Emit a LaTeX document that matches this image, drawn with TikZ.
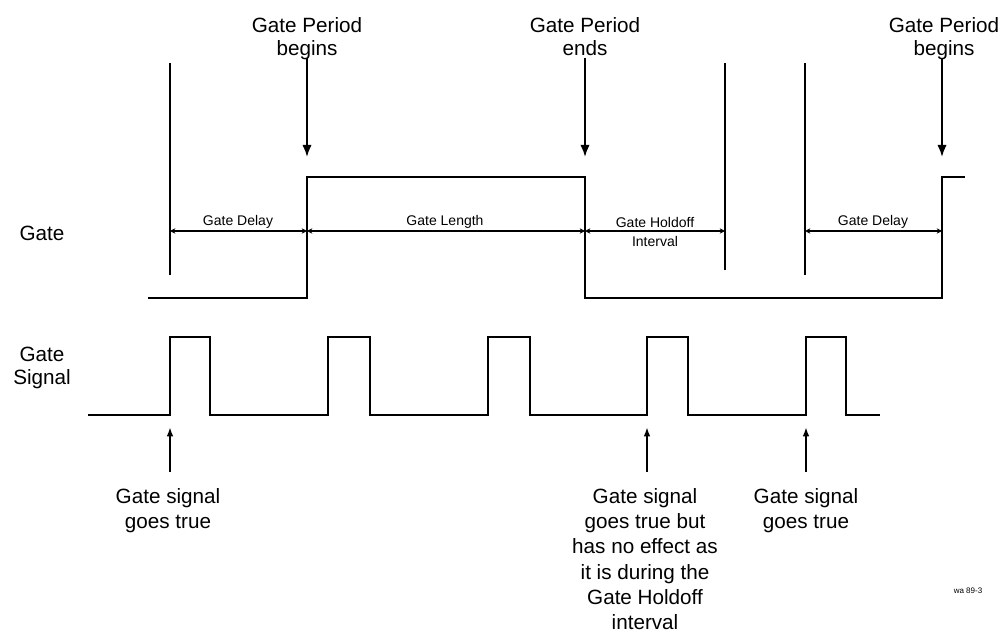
\documentclass[tikz,border=0pt]{standalone}
\usepackage{fontspec}
\setmainfont{Liberation Sans}
\usetikzlibrary{arrows.meta}
\begin{document}
\begin{tikzpicture}[x=0.75pt,y=-0.75pt,
  wave/.style={line width=1.5pt},
  vline/.style={line width=1.4pt},
  dim/.style={line width=1.1pt,{Stealth[length=4pt,width=4pt]}-{Stealth[length=4pt,width=4pt]}},
  arrowdn/.style={line width=1.4pt,-{Latex[length=9pt,width=7pt]}},
  arrowup/.style={line width=1.4pt,-{Latex[length=7pt,width=5pt]}},
  lab/.style={font=\fontsize{15.5}{17.5}\selectfont,align=center,inner sep=0pt},
  lowlab/.style={lab,font=\fontsize{15.5}{19}\selectfont,anchor=north},
  dimlab/.style={font=\fontsize{10.5}{14}\selectfont,align=center,inner sep=0pt},
  tag/.style={font=\fontsize{6}{7}\selectfont,inner sep=0pt}]
\useasboundingbox (0,0) rectangle (1002,638);
% side labels
\node[lab] (gate) at (42,233) {Gate};
\node[lab] (gsig) at (42,368) {Gate\\Signal};
% gate waveform
\draw[wave] (148,298) -- (307,298) -- (307,177) -- (585,177) -- (585,298) -- (942,298) -- (942,177) -- (965,177);
% vertical markers
\draw[vline] (170,63) -- (170,275);
\draw[vline] (725,63) -- (725,270);
\draw[vline] (805,63) -- (805,275);
% dimension coordinates
\coordinate (d0) at (170,231);
\coordinate (d1) at (307,231);
\coordinate (d2) at (585,231);
\coordinate (d3) at (725,231);
\coordinate (d4) at (805,231);
\coordinate (d5) at (942,231);
\draw[dim] (d0) -- (d1);
\draw[dim] (d1) -- (d2);
\draw[dim] (d2) -- (d3);
\draw[dim] (d4) -- (d5);
\node[dimlab] (gd1) at (238,222) {Gate Delay};
\node[dimlab] (gl) at (445,222) {Gate Length};
\node[dimlab] (gh) at (655,232) {Gate Holdoff\\Interval};
\node[dimlab] (gd2) at (873,222) {Gate Delay};
% top arrows
\node[lab,anchor=north] (pb1) at (307,17) {Gate Period\\begins};
\node[lab,anchor=north] (pe) at (585,17) {Gate Period\\ends};
\node[lab,anchor=north] (pb2) at (944,17) {Gate Period\\begins};
\coordinate (a1) at (307,58);
\coordinate (a2) at (585,58);
\coordinate (a3) at (942,58);
\coordinate (t1) at (307,157);
\coordinate (t2) at (585,157);
\coordinate (t3) at (942,157);
\draw[arrowdn] (a1) -- (t1);
\draw[arrowdn] (a2) -- (t2);
\draw[arrowdn] (a3) -- (t3);
% gate signal
\draw[wave] (88,415) -- (170,415) -- (170,337) -- (210,337) -- (210,415)
  -- (328,415) -- (328,337) -- (370,337) -- (370,415)
  -- (488,415) -- (488,337) -- (530,337) -- (530,415)
  -- (647,415) -- (647,337) -- (688,337) -- (688,415)
  -- (806,415) -- (806,337) -- (846,337) -- (846,415) -- (880,415);
% bottom labels
\node[lowlab] (s1) at (168,488) {Gate signal\\goes true};
\node[lowlab] (s2) at (645,488) {Gate signal\\goes true but\\has no effect as\\it is during the\\Gate Holdoff\\interval};
\node[lowlab] (s3) at (806,488) {Gate signal\\goes true};
\coordinate (b1) at (170,472);
\coordinate (b2) at (647,472);
\coordinate (b3) at (806,472);
\coordinate (u1) at (170,427);
\coordinate (u2) at (647,427);
\coordinate (u3) at (806,427);
\draw[arrowup] (b1) -- (u1);
\draw[arrowup] (b2) -- (u2);
\draw[arrowup] (b3) -- (u3);
\node[tag] (ref) at (968,591) {wa 89-3};
\end{tikzpicture}
\end{document}
